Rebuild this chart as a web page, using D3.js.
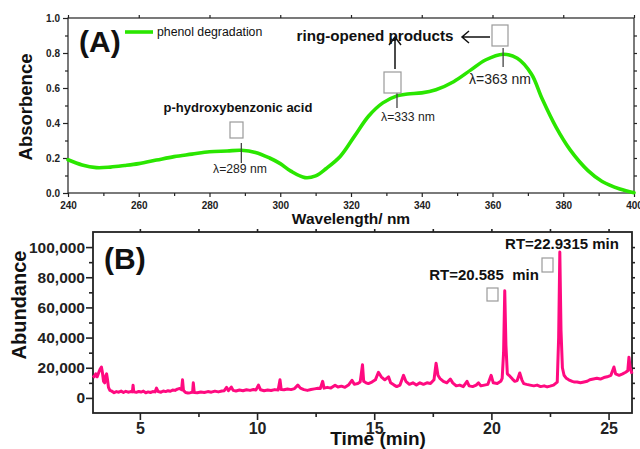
<!DOCTYPE html>
<html>
<head>
<meta charset="utf-8">
<script src="https://cdn.jsdelivr.net/npm/d3@7/dist/d3.min.js"></script>
<style>
  html, body { margin: 0; padding: 0; background: #fff; }
  svg { display: block; font-family: "Liberation Sans", Arial, sans-serif; }
  .axis path, .axis line { stroke: #222; }
</style>
</head>
<body>
<svg id="chart" width="640" height="449"></svg>
<script>
// ---- Panel A: UV-Vis absorbance spectrum during phenol degradation ----
const wavelength = [240, 244, 248, 252, 256, 260, 265, 270, 275, 280, 285, 289, 293, 297, 300,
  303, 307, 310, 313, 317, 321, 325, 329, 333, 336, 340, 344, 349, 354, 358, 363, 367, 371,
  374, 378, 382, 387, 391, 396, 400];
const absorbance = [0.190, 0.160, 0.145, 0.148, 0.157, 0.168, 0.188, 0.208, 0.222, 0.236, 0.240,
  0.244, 0.232, 0.200, 0.168, 0.125, 0.088, 0.098, 0.140, 0.210, 0.325, 0.440, 0.515, 0.555,
  0.566, 0.572, 0.590, 0.636, 0.705, 0.760, 0.793, 0.770, 0.680, 0.540, 0.375, 0.245, 0.128,
  0.066, 0.023, 0.002];
const xTicksA = [240, 260, 280, 300, 320, 340, 360, 380, 400];
const yTicksA = [0.0, 0.2, 0.4, 0.6, 0.8, 1.0];
const peakLabelsA = [
  { nm: 289, text: "\u03bb=289 nm" },
  { nm: 333, text: "\u03bb=333 nm" },
  { nm: 363, text: "\u03bb=363 nm" }
];

// ---- Panel B: GC-MS total ion chromatogram ----
const retentionTime = [3.00, 3.05, 3.12, 3.18, 3.25, 3.30, 3.36, 3.40, 3.45, 3.50, 3.55, 3.58, 3.62,
  3.66, 3.72, 3.80, 3.90, 4.00, 4.10, 4.20, 4.30, 4.40, 4.50, 4.60, 4.68, 4.71, 4.74, 4.85, 4.95,
  5.05, 5.15, 5.25, 5.35, 5.45, 5.55, 5.65, 5.71, 5.78, 5.90, 6.00, 6.10, 6.20, 6.30, 6.40, 6.50,
  6.60, 6.70, 6.78, 6.82, 6.86, 6.95, 7.05, 7.15, 7.25, 7.28, 7.32, 7.45, 7.60, 7.75, 7.90, 8.05,
  8.20, 8.35, 8.50, 8.60, 8.70, 8.78, 8.90, 8.98, 9.10, 9.25, 9.40, 9.55, 9.70, 9.85, 9.95, 10.06,
  10.15, 10.30, 10.45, 10.60, 10.75, 10.90, 10.98, 11.03, 11.15, 11.30, 11.45, 11.60, 11.74, 11.85,
  12.00, 12.15, 12.30, 12.45, 12.60, 12.70, 12.80, 12.86, 13.00, 13.15, 13.33, 13.45, 13.60, 13.75,
  13.90, 14.05, 14.15, 14.30, 14.40, 14.50, 14.55, 14.65, 14.75, 14.90, 15.05, 15.18, 15.30, 15.45,
  15.61, 15.70, 15.85, 15.96, 16.10, 16.25, 16.35, 16.50, 16.65, 16.80, 16.95, 17.10, 17.25, 17.40,
  17.55, 17.64, 17.72, 17.80, 17.95, 18.10, 18.25, 18.35, 18.50, 18.65, 18.80, 18.96, 19.05, 19.20,
  19.35, 19.45, 19.55, 19.70, 19.85, 19.99, 20.08, 20.25, 20.40, 20.46, 20.52, 20.57, 20.62, 20.68,
  20.75, 20.81, 20.90, 21.00, 21.10, 21.21, 21.30, 21.38, 21.50, 21.65, 21.81, 21.95, 22.10, 22.25,
  22.38, 22.50, 22.65, 22.81, 22.87, 22.92, 22.97, 23.03, 23.10, 23.20, 23.30, 23.45, 23.55, 23.66,
  23.80, 23.95, 24.09, 24.20, 24.35, 24.50, 24.65, 24.80, 24.94, 25.10, 25.23, 25.30, 25.45, 25.60,
  25.73, 25.82, 25.87, 25.92, 26.00];
// abundance in thousands of counts
const abundanceK = [15, 14, 16, 14, 17, 19, 20.5, 17, 11, 10, 15, 16, 12,
  7, 5, 4.5, 3.5, 4.2, 3.8, 4.5, 3.6, 4.4, 3.8, 4.2, 4.0, 8.4, 4.0, 3.7, 4.3,
  3.9, 4.5, 3.4, 4.0, 3.6, 4.2, 4.0, 6.5, 4.2, 3.8, 4.6, 4.2, 4.8, 4.4, 5.2, 5.0,
  5.8, 6.2, 5.5, 12, 5.0, 3.6, 3.3, 3.5, 3.8, 10, 3.6, 3.4, 3.9, 3.6, 4.2, 3.8,
  4.5, 4.0, 4.6, 4.8, 7.0, 4.8, 7.2, 5.0, 4.6, 5.2, 4.8, 5.4, 5.0, 5.6, 5.2, 8.5,
  5.4, 4.8, 5.2, 4.9, 5.5, 5.2, 12, 5.6, 5.4, 5.9, 5.5, 6.2, 8.5, 6.5,
  5.5, 5.0, 5.6, 6.0, 6.4, 6.2, 11, 6.5, 7.0, 6.5, 8.4, 7.2, 7.8, 7.0,
  8.5, 11.7, 9.0, 9.5, 10.5, 22, 11, 10, 9.5, 10.5, 12, 17, 14, 12,
  14, 10, 8.5, 7.5, 8.5, 15, 11, 9.0, 10, 8.5, 10, 9.0, 10, 9.5,
  12, 23, 15, 13, 11, 10, 12.5, 10, 8.0, 8.5, 7.5, 11, 8.0, 7.5,
  8.5, 10, 8.0, 8.5, 9.0, 15, 10, 9.5, 11, 13, 30, 71, 35, 16,
  15, 14, 12.5, 11, 11.5, 16.5, 12, 9.5, 9.0, 8.5, 8.0, 8.5, 7.5, 8.0,
  7.3, 7.8, 8.5, 10.5, 40, 96.7, 45, 20, 15, 13, 12, 11, 10.5, 10.5,
  10, 10.5, 11, 12, 12.5, 13, 12.5, 13.5, 14, 15, 20.5, 16, 15, 16,
  17, 18, 27, 20, 16];
const xTicksB = [5, 10, 15, 20, 25];
const yTicksB = [0, 20000, 40000, 60000, 80000, 100000];
const peakLabelsB = [
  { rt: 20.585, text: "RT=20.585\u00a0\u00a0min" },
  { rt: 22.9315, text: "RT=22.9315 min" }
];

const svg = d3.select("#chart");
const FONT = "'Liberation Sans', Arial, sans-serif";

// Draw a small empty box (structure placeholder)
function placeholder(g, x, y, w, h) {
  g.append("rect").attr("x", x).attr("y", y).attr("width", w).attr("height", h)
    .attr("fill", "#fff").attr("stroke", "#9a9a9a").attr("stroke-width", 1.2);
}

// ================= Panel A =================
const xA = d3.scaleLinear().domain([240, 400]).range([68, 634]);
const yA = d3.scaleLinear().domain([0, 1]).range([193, 18]);
const gA = svg.append("g");

// frame
gA.append("rect").attr("x", xA(240)).attr("y", yA(1)).attr("width", xA(400) - xA(240))
  .attr("height", yA(0) - yA(1)).attr("fill", "none").attr("stroke", "#222").attr("stroke-width", 1.2);

function styleAxis(sel, size, weight) {
  sel.attr("class", "axis");
  sel.select(".domain").remove();
  sel.selectAll("line").attr("stroke", "#222").attr("stroke-width", 1.2);
  sel.selectAll("text").attr("font-family", FONT).attr("font-size", size)
    .attr("font-weight", weight).attr("fill", "#222");
}

gA.append("g").attr("transform", `translate(0,${yA(0)})`)
  .call(d3.axisBottom(xA).tickValues(xTicksA).tickSize(4).tickPadding(5).tickFormat(d3.format("d")))
  .call(s => styleAxis(s, 10, "bold"));
gA.append("g").attr("transform", `translate(0,${yA(0)})`)
  .call(d3.axisBottom(xA).tickValues(d3.range(250, 400, 20)).tickSize(3).tickFormat(""))
  .call(s => styleAxis(s, 10, "bold"));
gA.append("g").attr("transform", `translate(${xA(240)},0)`)
  .call(d3.axisLeft(yA).tickValues(yTicksA).tickSize(5).tickPadding(3).tickFormat(d3.format(".1f")))
  .call(s => styleAxis(s, 10, "bold"));
gA.append("g").attr("transform", `translate(${xA(240)},0)`)
  .call(d3.axisLeft(yA).tickValues([0.1, 0.3, 0.5, 0.7, 0.9]).tickSize(3).tickFormat(""))
  .call(s => styleAxis(s, 10, "bold"));
gA.append("g").attr("transform", `translate(0,${yA(1)})`)
  .call(d3.axisTop(xA).tickValues(xTicksA).tickSize(3).tickFormat(""))
  .call(s => styleAxis(s, 10, "bold"));
gA.append("g").attr("transform", `translate(${xA(400)},0)`)
  .call(d3.axisRight(yA).tickValues(d3.range(0.1, 1.0, 0.1)).tickSize(3).tickFormat(""))
  .call(s => styleAxis(s, 10, "bold"));

// spectrum
const specData = wavelength.map((w, i) => [w, absorbance[i]]);
gA.append("path").datum(specData)
  .attr("fill", "none").attr("stroke", "#2ae600").attr("stroke-width", 3.6)
  .attr("stroke-linejoin", "round").attr("stroke-linecap", "round")
  .attr("d", d3.line().x(d => xA(d[0])).y(d => yA(d[1])).curve(d3.curveCatmullRom.alpha(0.5)));

// axis titles
gA.append("text").attr("x", 351).attr("y", 224).attr("text-anchor", "middle")
  .attr("font-family", FONT).attr("font-size", 15.5).attr("font-weight", "bold").attr("fill", "#111")
  .text("Wavelength/ nm");
gA.append("text").attr("transform", "translate(32,107) rotate(-90)").attr("text-anchor", "middle")
  .attr("font-family", FONT).attr("font-size", 18.5).attr("font-weight", "bold").attr("fill", "#111")
  .text("Absorbence");

// panel letter and legend
gA.append("text").attr("x", 79).attr("y", 52).attr("font-family", FONT).attr("font-size", 30)
  .attr("font-weight", "bold").attr("fill", "#111").text("(A)");
gA.append("line").attr("x1", 125).attr("x2", 153).attr("y1", 32).attr("y2", 32)
  .attr("stroke", "#2ae600").attr("stroke-width", 3.6);
gA.append("text").attr("x", 157).attr("y", 36).attr("font-family", FONT).attr("font-size", 12.3)
  .attr("fill", "#111").text("phenol degradation");

// peak markers
const markerSpan = { 289: [143, 163], 333: [85, 108], 363: [48, 67] };
peakLabelsA.forEach(p => {
  gA.append("line").attr("x1", xA(p.nm)).attr("x2", xA(p.nm))
    .attr("y1", markerSpan[p.nm][0]).attr("y2", markerSpan[p.nm][1])
    .attr("stroke", "#444").attr("stroke-width", 1.3);
});
gA.append("text").attr("x", 240).attr("y", 173).attr("text-anchor", "middle")
  .attr("font-family", FONT).attr("font-size", 12.2).attr("fill", "#222").text(peakLabelsA[0].text);
gA.append("text").attr("x", 408).attr("y", 121).attr("text-anchor", "middle")
  .attr("font-family", FONT).attr("font-size", 12.2).attr("fill", "#222").text(peakLabelsA[1].text);
gA.append("text").attr("x", 500).attr("y", 84).attr("text-anchor", "middle")
  .attr("font-family", FONT).attr("font-size", 14).attr("fill", "#222").text(peakLabelsA[2].text);

gA.append("text").attr("x", 238).attr("y", 112).attr("text-anchor", "middle")
  .attr("font-family", FONT).attr("font-size", 13).attr("font-weight", "bold").attr("fill", "#111")
  .text("p-hydroxybenzonic acid");
gA.append("text").attr("x", 375).attr("y", 41).attr("text-anchor", "middle")
  .attr("font-family", FONT).attr("font-size", 15.2).attr("font-weight", "bold").attr("fill", "#111")
  .text("ring-opened products");

placeholder(gA, 230, 122, 13, 16);
placeholder(gA, 384, 72, 17, 21);
placeholder(gA, 492, 25, 16, 21);

// arrows toward the product label
gA.append("path").attr("d", "M490,37 L462,37 M469,31 L462,37 L469,43")
  .attr("fill", "none").attr("stroke", "#111").attr("stroke-width", 1.5);
gA.append("path").attr("d", "M395,69 L395,37 M389,45 L395,37 L401,45")
  .attr("fill", "none").attr("stroke", "#111").attr("stroke-width", 1.5);

// ================= Panel B =================
const xB = d3.scaleLinear().domain([3, 26]).range([93, 632]);
const yB = d3.scaleLinear().domain([-10000, 110000]).range([413, 232]);
const gB = svg.append("g");

gB.append("rect").attr("x", xB(3)).attr("y", yB(110000)).attr("width", xB(26) - xB(3))
  .attr("height", yB(-10000) - yB(110000)).attr("fill", "none").attr("stroke", "#222").attr("stroke-width", 1.8);

gB.append("g").attr("transform", `translate(0,${yB(-10000)})`)
  .call(d3.axisBottom(xB).tickValues(xTicksB).tickSize(7).tickPadding(3).tickFormat(d3.format("d")))
  .call(s => styleAxis(s, 16, "bold"));
gB.append("g").attr("transform", `translate(0,${yB(-10000)})`)
  .call(d3.axisBottom(xB).tickValues([7.5, 12.5, 17.5, 22.5]).tickSize(4).tickFormat(""))
  .call(s => styleAxis(s, 16, "bold"));
gB.append("g").attr("transform", `translate(${xB(3)},0)`)
  .call(d3.axisLeft(yB).tickValues(yTicksB).tickSize(7).tickPadding(1).tickFormat(d3.format(",")))
  .call(s => styleAxis(s, 15.5, "bold"));
gB.append("g").attr("transform", `translate(${xB(3)},0)`)
  .call(d3.axisLeft(yB).tickValues([10000, 30000, 50000, 70000, 90000]).tickSize(4).tickFormat(""))
  .call(s => styleAxis(s, 16, "bold"));
gB.append("g").attr("transform", `translate(0,${yB(110000)})`)
  .call(d3.axisTop(xB).tickValues(d3.range(5, 26, 2.5)).tickSize(3).tickFormat(""))
  .call(s => styleAxis(s, 16, "bold"));
gB.append("g").attr("transform", `translate(${xB(26)},0)`)
  .call(d3.axisRight(yB).tickValues(d3.range(0, 100001, 10000)).tickSize(3).tickFormat(""))
  .call(s => styleAxis(s, 16, "bold"));

gB.selectAll(".axis line").attr("stroke-width", 1.6);

// chromatogram
const tic = retentionTime.map((t, i) => [t, abundanceK[i] * 1000]);
gB.append("path").datum(tic)
  .attr("fill", "none").attr("stroke", "#ff0a80").attr("stroke-width", 3)
  .attr("stroke-linejoin", "round")
  .attr("d", d3.line().x(d => xB(d[0])).y(d => yB(d[1])));

// titles
gB.append("text").attr("transform", "translate(26,305) rotate(-90)").attr("text-anchor", "middle")
  .attr("font-family", FONT).attr("font-size", 20).attr("font-weight", "bold").attr("fill", "#111")
  .text("Abundance");
gB.append("text").attr("x", 378).attr("y", 445).attr("text-anchor", "middle")
  .attr("font-family", FONT).attr("font-size", 19).attr("font-weight", "bold").attr("fill", "#111")
  .text("Time (min)");
gB.append("text").attr("x", 104).attr("y", 269).attr("font-family", FONT).attr("font-size", 30)
  .attr("font-weight", "bold").attr("fill", "#111").text("(B)");

// peak annotations
gB.append("text").attr("x", 484).attr("y", 280).attr("text-anchor", "middle")
  .attr("font-family", FONT).attr("font-size", 15).attr("font-weight", "bold").attr("fill", "#111")
  .text(peakLabelsB[0].text);
gB.append("text").attr("x", 562).attr("y", 249).attr("text-anchor", "middle")
  .attr("font-family", FONT).attr("font-size", 15).attr("font-weight", "bold").attr("fill", "#111")
  .text(peakLabelsB[1].text);
placeholder(gB, 487, 288, 11, 13);
placeholder(gB, 542, 258, 11, 14);
</script>
</body>
</html>
